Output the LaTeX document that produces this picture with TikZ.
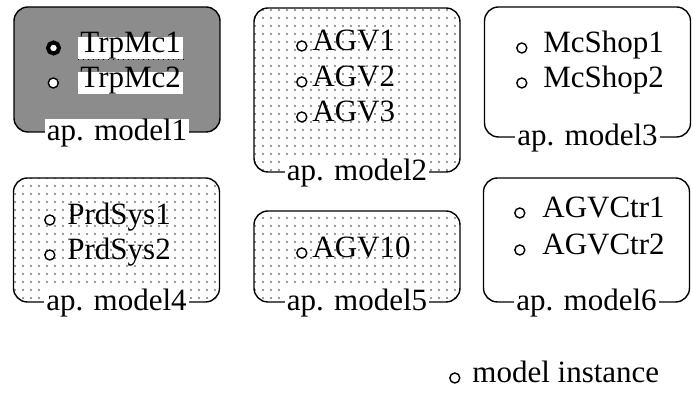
\documentclass[tikz,border=0pt]{standalone}
\usepackage{fontspec}
\setmainfont{Liberation Serif}
\usetikzlibrary{positioning,patterns.meta}
\tikzset{
  every node/.style={font=\fontsize{15.5}{17}\selectfont},
  apbox/.style={draw,line width=0.7pt,rounded corners=7pt,inner sep=0pt,minimum width=103pt},
  darkbox/.style={apbox,fill=black!45},
  dotbox/.style={apbox,pattern={Dots[distance=4pt,radius=0.4pt]},pattern color=black!80},
  plainbox/.style={apbox,fill=white},
  aplabel/.style={fill=white,inner xsep=1pt,inner ysep=0pt},
  inst/.style={anchor=west,inner xsep=1pt,inner ysep=1pt,text height=0.7em,text depth=0.24em},
  instmark/.style={circle,draw,line width=0.7pt,inner sep=0pt,minimum size=5pt,fill=white},
  selmark/.style={instmark,line width=2pt,minimum size=5.5pt},
  ring/.style={label={[instmark,label distance=#1]left:}},
  boldring/.style={label={[selmark,label distance=#1]left:}},
}

\begin{document}
\begin{tikzpicture}[x=0.5pt,y=-0.5pt]
\useasboundingbox (0,0) rectangle (693,394);

% application model boxes
\node[darkbox,minimum height=62.5pt] (m1) at (117,69.5) {};
\node[dotbox,minimum height=82pt] (m2) at (357,90) {};
\node[plainbox,minimum height=65pt] (m3) at (587.5,72) {};
\node[dotbox,minimum height=62pt] (m4) at (116.5,240) {};
\node[dotbox,minimum height=45.5pt] (m5) at (357,256.5) {};
\node[plainbox,minimum height=62pt] (m6) at (586.5,240) {};

% model instances
\node[inst,fill=white,boldring=8.5pt] (trp1) at (78,48) {TrpMc1};
\node[inst,fill=white,ring=9.5pt] (trp2) at (78,83) {TrpMc2};
\draw[dotted,line width=0.5pt] (trp1.south west) -- (trp1.south east);

\node[inst,ring=1.25pt] (agv1) at (310,46) {AGV1};
\node[inst,ring=1.25pt] (agv2) at (310,82) {AGV2};
\node[inst,ring=1.25pt] (agv3) at (310,117) {AGV3};

\node[inst,ring=6.75pt] (shop1) at (541,48) {McShop1};
\node[inst,ring=6.75pt] (shop2) at (541,83) {McShop2};

\node[inst,ring=4.75pt] (prd1) at (65,220) {PrdSys1};
\node[inst,ring=4.75pt] (prd2) at (65,255) {PrdSys2};

\node[inst,ring=1.25pt] (agv10) at (310,253) {AGV10};

\node[inst,ring=7.25pt] (ctr1) at (540,213) {AGVCtr1};
\node[inst,ring=7.25pt] (ctr2) at (540,250) {AGVCtr2};

% box titles
\node[aplabel] (l1) at (m1.south) {ap. model1};
\node[aplabel] (l2) at (m2.south) {ap. model2};
\node[aplabel] (l3) at (m3.south) {ap. model3};
\node[aplabel] (l4) at (m4.south) {ap. model4};
\node[aplabel] (l5) at (m5.south) {ap. model5};
\node[aplabel] (l6) at (m6.south) {ap. model6};

% legend
\node[inst,ring=4.75pt] (legend) at (470,378) {model instance};

\end{tikzpicture}
\end{document}
